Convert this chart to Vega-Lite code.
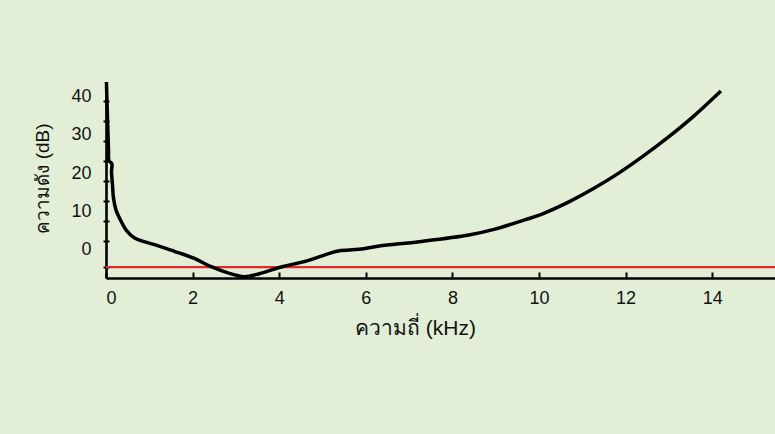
{
  "$schema": "https://vega.github.io/schema/vega-lite/v6.json",
  "width": 669,
  "height": 196,
  "autosize": {"type": "none"},
  "padding": {"left": 106, "top": 82, "right": 0, "bottom": 156},
  "background": "#e2efd6",
  "config": {"view": {"stroke": null}, "font": "Liberation Sans"},
  "datasets": {
    "threshold": [{"x0": 0, "x1": 15.45, "db": -4.55}],
    "curve": [
      {"i": 1, "khz": 0.01, "db": 43.8},
      {"i": 2, "khz": 0.035, "db": 34.1},
      {"i": 3, "khz": 0.058, "db": 26.0},
      {"i": 4, "khz": 0.07, "db": 23.2},
      {"i": 5, "khz": 0.134, "db": 22.5},
      {"i": 6, "khz": 0.127, "db": 20.3},
      {"i": 7, "khz": 0.15, "db": 16.9},
      {"i": 8, "khz": 0.173, "db": 13.5},
      {"i": 9, "khz": 0.23, "db": 10.4},
      {"i": 10, "khz": 0.31, "db": 8.3},
      {"i": 11, "khz": 0.48, "db": 4.9},
      {"i": 12, "khz": 0.66, "db": 3.05},
      {"i": 13, "khz": 1.12, "db": 1.3},
      {"i": 14, "khz": 1.58, "db": -0.43},
      {"i": 15, "khz": 2.04, "db": -2.3},
      {"i": 16, "khz": 2.43, "db": -4.45},
      {"i": 17, "khz": 2.85, "db": -6.2},
      {"i": 18, "khz": 3.19, "db": -7.06},
      {"i": 19, "khz": 3.54, "db": -6.28},
      {"i": 20, "khz": 4.07, "db": -4.45},
      {"i": 21, "khz": 4.62, "db": -3.0},
      {"i": 22, "khz": 5.16, "db": -0.95},
      {"i": 23, "khz": 5.39, "db": -0.27},
      {"i": 24, "khz": 5.85, "db": 0.1},
      {"i": 25, "khz": 6.31, "db": 0.96},
      {"i": 26, "khz": 7.23, "db": 2.08},
      {"i": 27, "khz": 8.38, "db": 3.83},
      {"i": 28, "khz": 8.96, "db": 5.3},
      {"i": 29, "khz": 9.54, "db": 7.31},
      {"i": 30, "khz": 10.11, "db": 9.5},
      {"i": 31, "khz": 10.69, "db": 12.48},
      {"i": 32, "khz": 11.27, "db": 16.03},
      {"i": 33, "khz": 11.85, "db": 20.06},
      {"i": 34, "khz": 12.42, "db": 24.55},
      {"i": 35, "khz": 13.0, "db": 29.51},
      {"i": 36, "khz": 13.58, "db": 34.95},
      {"i": 37, "khz": 14.2, "db": 41.45}
    ]
  },
  "resolve": {"axis": {"x": "independent", "y": "independent"}},
  "layer": [
    {
      "data": {"name": "threshold"},
      "mark": {"type": "rule", "color": "#e8262d", "strokeWidth": 2.2},
      "encoding": {
        "x": {
          "field": "x0", "type": "quantitative",
          "scale": {"domain": [0, 15.45], "nice": false, "zero": false},
          "axis": {
            "orient": "bottom", "title": null, "domain": false, "labels": false, "grid": false,
            "ticks": true, "tickSize": -6, "tickWidth": 2, "tickColor": "#000",
            "values": [0, 2, 4, 6, 8, 10, 12, 14]
          }
        },
        "x2": {"field": "x1"},
        "y": {
          "field": "db", "type": "quantitative",
          "scale": {"domain": [-7.4, 43.8], "nice": false, "zero": false},
          "axis": {
            "orient": "left", "title": null, "domain": false, "labels": false, "grid": false,
            "ticks": true, "tickSize": 6, "offset": -3, "tickWidth": 2, "tickColor": "#000",
            "values": [38.92, 33.69, 28.47, 23.24, 18.02, 12.79, 7.57, 2.34, -4.55]
          }
        }
      }
    },
    {
      "data": {"name": "curve"},
      "mark": {"type": "line", "color": "#000", "strokeWidth": 3.5, "interpolate": "catmull-rom", "strokeCap": "butt", "clip": false},
      "encoding": {
        "x": {
          "field": "khz", "type": "quantitative",
          "scale": {"domain": [0, 15.45], "nice": false, "zero": false},
          "axis": {
            "orient": "bottom", "title": "ความถี่ (kHz)", "grid": false,
            "domain": true, "domainColor": "#000", "domainWidth": 2.6,
            "ticks": false, "tickSize": 0,
            "values": [0, 2, 4, 6, 8, 10, 12, 14],
            "labelFontSize": 18, "labelColor": "#111", "labelPadding": 11, "labelBaseline": "top",
            "titleFontSize": 21, "titleFontWeight": "normal", "titleColor": "#111",
            "titleX": 309, "titleY": 56, "titleAlign": "center", "titleBaseline": "alphabetic"
          }
        },
        "y": {
          "field": "db", "type": "quantitative",
          "scale": {"domain": [-7.4, 43.8], "nice": false, "zero": false},
          "axis": {
            "orient": "left", "title": "ความดัง (dB)", "grid": false,
            "domain": true, "domainColor": "#000", "domainWidth": 2.6,
            "ticks": false, "tickSize": 0,
            "values": [0, 10, 20, 30, 40],
            "labelFontSize": 18, "labelColor": "#111", "labelPadding": 15,
            "titleFontSize": 19, "titleFontWeight": "normal", "titleColor": "#111",
            "titleX": -58, "titleY": 96, "titleAngle": 270, "titleAlign": "center", "titleBaseline": "alphabetic"
          }
        },
        "order": {"field": "i", "type": "quantitative"}
      }
    }
  ]
}
